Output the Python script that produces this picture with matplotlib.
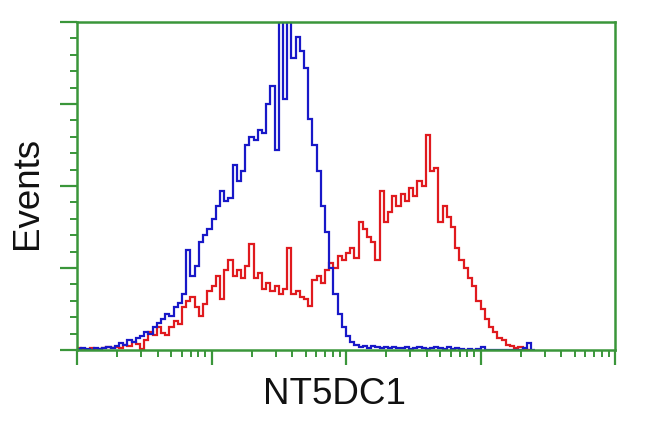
import numpy as np
import matplotlib
matplotlib.use("Agg")
import matplotlib.pyplot as plt
from matplotlib.ticker import MultipleLocator, LogLocator, NullFormatter

# Histogram channels: 128 log-spaced bins over 10^0 .. 10^4
n_bins = 128
edges_all = np.logspace(0, 4, n_bins + 1)

# Control (blue) events per bin
blue_counts = [1, 2, 1, 0, 2, 1, 2, 3, 2, 4, 7, 5, 10, 8, 12, 14, 18, 16, 22, 26,
               30, 35, 33, 42, 46, 55, 98, 72, 82, 105, 112, 118, 128, 140, 155, 145, 148, 180, 165, 175,
               200, 208, 205, 215, 212, 240, 258, 195, 345, 245, 345, 285, 305, 292, 275, 225, 200, 175, 140, 115,
               80, 55, 35, 22, 14, 8, 5, 3, 4, 2, 4, 3, 2, 3, 2, 3, 2, 2, 3, 1,
               2, 3, 2, 1, 2, 3, 2, 1, 3, 1, 2, 1, 0, 1, 0, 1, 3, 0, 0, 0,
               0, 0, 0, 0, 0, 0, 2, 7, 0]

# NT5DC1 stained (red) events per bin
red_counts = [2, 1, 0, 2, 0, 1, 2, 3, 2, 3, 2, 5, 4, 8, 6, 1, 10, 18, 15, 22,
              17, 15, 22, 28, 25, 42, 48, 52, 42, 33, 45, 58, 62, 72, 50, 78, 88, 72, 78, 70,
              82, 103, 70, 75, 60, 65, 58, 62, 55, 60, 100, 55, 58, 52, 50, 43, 68, 72, 65, 78,
              85, 80, 92, 88, 95, 100, 90, 125, 118, 110, 105, 88, 155, 125, 135, 150, 140, 152, 145, 158,
              150, 165, 160, 210, 175, 178, 125, 140, 130, 120, 100, 88, 80, 70, 62, 48, 40, 30, 22, 18,
              12, 10, 5, 4, 2, 3, 1, 0]

x_label = "NT5DC1"
y_label = "Events"

green = "#3a963a"

fig = plt.figure(figsize=(6.5, 4.32), dpi=100)
ax = fig.add_axes([77/650, 1 - 350/432, (615-77)/650, (350-22)/432])

ax.stairs(red_counts, edges_all[:len(red_counts) + 1], color="#e01a1e", lw=1.6)
ax.stairs(blue_counts, edges_all[:len(blue_counts) + 1], color="#1818c8", lw=1.6)

ax.set_xscale("log")
ax.set_xlim(1, 1e4)
ax.set_ylim(0, 320)

ax.xaxis.set_major_locator(LogLocator(base=10, numticks=10))
ax.xaxis.set_minor_locator(LogLocator(base=10, subs=np.arange(2, 10), numticks=20))
ax.xaxis.set_major_formatter(NullFormatter())
ax.xaxis.set_minor_formatter(NullFormatter())
ax.yaxis.set_major_locator(MultipleLocator(80))
ax.yaxis.set_minor_locator(MultipleLocator(16))
ax.yaxis.set_major_formatter(NullFormatter())

for s in ax.spines.values():
    s.set_color(green)
    s.set_linewidth(1.8)

ax.tick_params(axis="both", which="major", direction="out", color=green, width=1.6)
ax.tick_params(axis="both", which="minor", direction="out", color=green, width=1.4, length=5)
ax.tick_params(axis="y", which="major", length=12)
ax.tick_params(axis="x", which="major", length=11)

fig.text(28/650, 1 - 193/432, y_label, rotation=90, ha="center", va="center",
         fontsize=26.5, family="Liberation Sans", color="#111111")
fig.text(334/650, 1 - 395/432, x_label, ha="center", va="center",
         fontsize=26.5, family="Liberation Sans", color="#111111")

fig.savefig("out.png", dpi=100)
